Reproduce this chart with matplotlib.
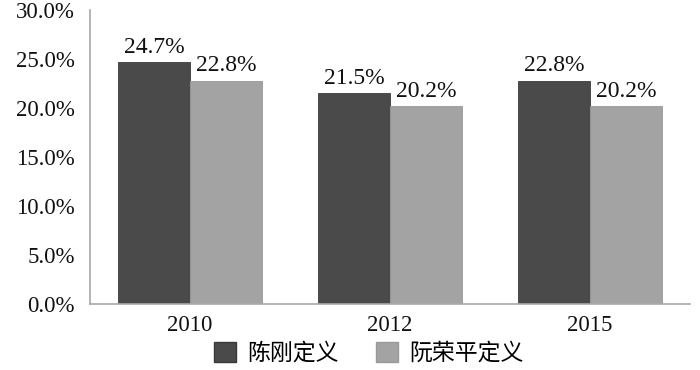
import matplotlib
matplotlib.use("Agg")
import matplotlib.pyplot as plt
import numpy as np
from matplotlib.patches import Patch

years = ["2010", "2012", "2015"]
series_names = ["陈刚定义", "阮荣平定义"]
chen = [24.7, 21.5, 22.8]
ruan = [22.8, 20.2, 20.2]
yticks = [0, 5, 10, 15, 20, 25, 30]
colors = ["#4a4a4a", "#a3a3a3"]

serif = ["Liberation Serif", "DejaVu Serif"]
cjk = ["Noto Sans CJK SC", "DejaVu Sans"]

fig = plt.figure(figsize=(7, 3.7), dpi=100)
ax = fig.add_axes([90/700, 1-304/370, 600/700, 294/370])

x = np.arange(len(years))
w = 0.36
b1 = ax.bar(x - w/2, chen, w, color=colors[0], edgecolor="#3a3a3a", linewidth=0.6)
b2 = ax.bar(x + w/2, ruan, w, color=colors[1], edgecolor="#999999", linewidth=0.6)

for bars, vals in ((b1, chen), (b2, ruan)):
    for r, v in zip(bars, vals):
        ax.annotate(f"{v:.1f}%", (r.get_x() + r.get_width()/2, v),
                    xytext=(0, 3), textcoords="offset points",
                    ha="center", va="bottom", fontsize=17, family=serif, color="#111111")

ax.set_xlim(-0.5, 2.5)
ax.set_ylim(0, 30)
ax.set_yticks(yticks)
ax.set_yticklabels([f"{t:.1f}%" for t in yticks], family=serif, fontsize=16.5)
ax.set_xticks(x)
ax.set_xticklabels(years, family=serif, fontsize=16.5)
ax.tick_params(axis="both", length=0, colors="#111111")
ax.tick_params(axis="y", pad=11)
ax.tick_params(axis="x", pad=8)
for s in ("top", "right"):
    ax.spines[s].set_visible(False)
for s in ("left", "bottom"):
    ax.spines[s].set_color("#a8a8a8")
    ax.spines[s].set_linewidth(1.2)

handles = [Patch(facecolor=colors[0], edgecolor="#3a3a3a"), Patch(facecolor=colors[1], edgecolor="#999999")]
leg = fig.legend(handles, series_names, loc="center", bbox_to_anchor=(0.527, 1 - 353/370),
                 ncol=2, frameon=False, prop={"family": cjk, "size": 16.5},
                 handlelength=0.95, handleheight=0.95, handletextpad=0.5, columnspacing=1.6)

fig.savefig("out.png", dpi=100)
